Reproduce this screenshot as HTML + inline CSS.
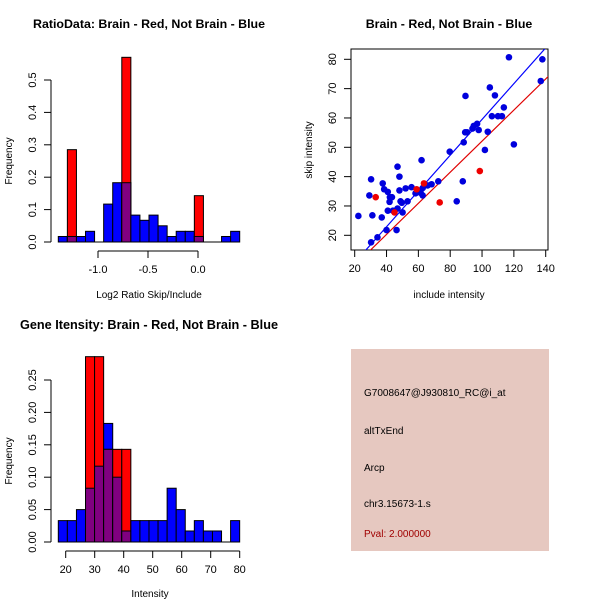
<!DOCTYPE html>
<html><head><meta charset="utf-8"><style>
body{margin:0;background:#fff}
svg{display:block;font-family:"Liberation Sans",sans-serif}
</style></head><body>
<svg id="c" width="600" height="600" xmlns="http://www.w3.org/2000/svg">
<rect width="600" height="600" fill="#fff"/>
<text x="149" y="28" font-size="12.4" font-weight="bold" text-anchor="middle">RatioData: Brain - Red, Not Brain - Blue</text>
<text x="449" y="28" font-size="12.4" font-weight="bold" text-anchor="middle">Brain - Red, Not Brain - Blue</text>
<text x="149" y="329" font-size="12.7" font-weight="bold" text-anchor="middle">Gene Itensity: Brain - Red, Not Brain - Blue</text>
<text x="149" y="298" font-size="10" text-anchor="middle">Log2 Ratio Skip/Include</text>
<text x="150" y="597" font-size="10" text-anchor="middle">Intensity</text>
<text x="449" y="298" font-size="10" text-anchor="middle">include intensity</text>
<text transform="translate(12,161) rotate(-90)" font-size="10" text-anchor="middle">Frequency</text>
<text transform="translate(12,461) rotate(-90)" font-size="10" text-anchor="middle">Frequency</text>
<text transform="translate(312,150) rotate(-90)" font-size="10" text-anchor="middle">skip intensity</text>
<g>
<rect x="351" y="349" width="198" height="202" fill="#e6c8c0"/>
<text x="364" y="396" font-size="10">G7008647@J930810_RC@i_at</text>
<text x="364" y="434" font-size="10">altTxEnd</text>
<text x="364" y="471" font-size="10">Arcp</text>
<text x="364" y="507" font-size="10">chr3.15673-1.s</text>
<text x="364" y="537" font-size="10" fill="#a00000">Pval: 2.000000</text>
</g>
<g id="g"></g>
</svg>
<script>
// Ratio histogram data
const ratioBinStart = -1.397, ratioBinWidth = 0.0907;
const ratioBlue = [0.017,0.017,0.017,0.033,0,0.117,0.183,0.183,0.083,0.067,0.083,0.05,0.017,0.033,0.033,0.017,0,0,0.017,0.033];
const ratioRed  = [0,0.285,0,0,0,0,0,0.57,0,0,0,0,0,0,0,0.143,0,0,0,0];
const ratioXTicks = [-1.0,-0.5,0.0];
const ratioXTickLabels = ["-1.0","-0.5","0.0"];
const ratioYTicks = [0,0.1,0.2,0.3,0.4,0.5];
const ratioYTickLabels = ["0.0","0.1","0.2","0.3","0.4","0.5"];
// Intensity histogram data
const intBinStart = 17.45, intBinWidth = 3.127;
const intBlue = [0.033,0.033,0.05,0.083,0.117,0.183,0.1,0.017,0.033,0.033,0.033,0.033,0.083,0.05,0.017,0.033,0.017,0.017,0,0.033];
const intRed  = [0,0,0,0.286,0.286,0.143,0.143,0.143,0,0,0,0,0,0,0,0,0,0,0,0];
const intXTicks = [20,30,40,50,60,70,80];
const intYTicks = [0,0.05,0.1,0.15,0.2,0.25];
const intYTickLabels = ["0.00","0.05","0.10","0.15","0.20","0.25"];
// Scatter data
const blueX = [22.3,30.3,29.2,31.1,30.3,34.3,37,37.6,38.5,40.8,41.9,42.1,43.4,40.8,44,40,46.3,46.9,48.1,48.1,48.8,49.6,50.1,46.9,52,53.2,55.7,58.2,59.5,60.8,61.4,62,62.7,62.7,65.8,68.3,72.5,79.7,87.9,84.1,88.5,89.4,90.6,89.6,94,94.8,96.9,97.9,101.8,103.6,104.9,106.2,108.1,110,112.5,113.7,116.9,120,136.9,137.9];
const blueY = [26.6,39.1,33.6,26.8,17.6,19.3,26.1,37.7,35.7,34.8,31.4,33,33,28.4,28.4,21.8,21.8,43.4,40,35.3,31.6,31.1,27.8,29.1,36,31.6,36.4,34.3,34.8,35,34.5,45.6,36.1,33.6,37,37.4,38.4,48.5,38.4,31.6,51.7,55.1,55.1,67.5,56.4,57.3,58,55.9,49.1,55.3,70.4,60.6,67.7,60.6,60.6,63.6,80.7,51,72.6,80];
const redX = [33.2,45,58.9,63.5,73.4,98.6];
const redY = [33,27.8,35.7,37.7,31.2,41.9];
const blueFit = [0.61,-1.5];
const redFit = [0.53,-0.9];
const scXTicks = [20,40,60,80,100,120,140];
const scYTicks = [20,30,40,50,60,70,80];

const NS="http://www.w3.org/2000/svg", G=document.getElementById('g');
function mk(tag,a,parent){const e=document.createElementNS(NS,tag);for(const k in a)e.setAttribute(k,a[k]);(parent||G).appendChild(e);return e;}

function hist(name,x0px,unitPx,yBase,yPx,binStart,bw,blue,red,xt,xtl,yt,ytl,axisY){
  const sx=v=>x0px+v*unitPx, sy=v=>yBase-v*yPx;
  for(let i=0;i<blue.length;i++){
    const a=sx(binStart+i*bw), b=sx(binStart+(i+1)*bw);
    const bv=blue[i], rv=red[i];
    if(bv>0){const r=mk('rect',{x:a,y:sy(bv),width:b-a,height:sy(0)-sy(bv),fill:'#0000ff',stroke:'#000','stroke-width':1});
      
      }
    if(rv>0){const r=mk('rect',{x:a,y:sy(rv),width:b-a,height:sy(0)-sy(rv),fill:'#ff0000',stroke:'#000','stroke-width':1});
      
      }
    const m=Math.min(bv,rv);
    if(m>0){const r=mk('rect',{x:a,y:sy(m),width:b-a,height:sy(0)-sy(m),fill:'#800080',stroke:'#000','stroke-width':1});
      
      }
  }
  const ya=mk('line',{x1:51,x2:51,y1:sy(yt[0]),y2:sy(yt[yt.length-1]),stroke:'#000'});
  
  
  yt.forEach((v,i)=>{mk('line',{x1:44,x2:51,y1:sy(v),y2:sy(v),stroke:'#000'});
    const t=mk('text',{transform:`translate(36,${sy(v)}) rotate(-90)`,'font-size':11,'text-anchor':'middle'});t.textContent=ytl[i];
    
    });
  mk('line',{x1:sx(binStart),x2:sx(binStart+blue.length*bw),y1:sy(0),y2:sy(0),stroke:'#000'});
  const xa=mk('line',{x1:sx(xt[0]),x2:sx(xt[xt.length-1]),y1:axisY,y2:axisY,stroke:'#000'});
  
  
  xt.forEach((v,i)=>{mk('line',{x1:sx(v),x2:sx(v),y1:axisY,y2:axisY+7,stroke:'#000'});
    const t=mk('text',{x:sx(v),y:axisY+22,'font-size':11,'text-anchor':'middle'});t.textContent=xtl[i];
    
    });
}
hist('ratio',198,100,242,324,ratioBinStart,ratioBinWidth,ratioBlue,ratioRed,ratioXTicks,ratioXTickLabels,ratioYTicks,ratioYTickLabels,251);
hist('intensity',65.7-20*2.9,2.9,542,648,intBinStart,intBinWidth,intBlue,intRed,intXTicks,intXTicks.map(String),intYTicks,intYTickLabels,551);

const px=v=>354.7+(v-20)*1.5917, py=v=>235.3-(v-20)*2.9333;
const clip=mk('clipPath',{id:'sc'});mk('rect',{x:351,y:49,width:197,height:201},clip);
const fr=mk('rect',{x:351,y:49,width:197,height:201,fill:'none',stroke:'#000'});


scXTicks.forEach(v=>{mk('line',{x1:px(v),x2:px(v),y1:250,y2:257,stroke:'#000'});
  const t=mk('text',{x:px(v),y:272,'font-size':11,'text-anchor':'middle'});t.textContent=v;
  
  });
scYTicks.forEach(v=>{mk('line',{x1:344,x2:351,y1:py(v),y2:py(v),stroke:'#000'});
  const t=mk('text',{transform:`translate(336,${py(v)}) rotate(-90)`,'font-size':11,'text-anchor':'middle'});t.textContent=v;
  
  });
const cg=mk('g',{'clip-path':'url(#sc)'});
[[blueFit,'#0000ff','blue-fit-line'],[redFit,'#e00000','red-fit-line']].forEach(([f,c,n])=>{
  const l=mk('line',{x1:px(0),y1:py(f[1]),x2:px(160),y2:py(f[0]*160+f[1]),stroke:c,'stroke-width':1.2},cg);
  
  });
blueX.forEach((v,i)=>{const c=mk('circle',{cx:px(v),cy:py(blueY[i]),r:3.3,fill:'#0000dd'},cg);
  
  });
redX.forEach((v,i)=>{const c=mk('circle',{cx:px(v),cy:py(redY[i]),r:3.3,fill:'#ee0000'},cg);
  
  });
</script>
</body></html>
